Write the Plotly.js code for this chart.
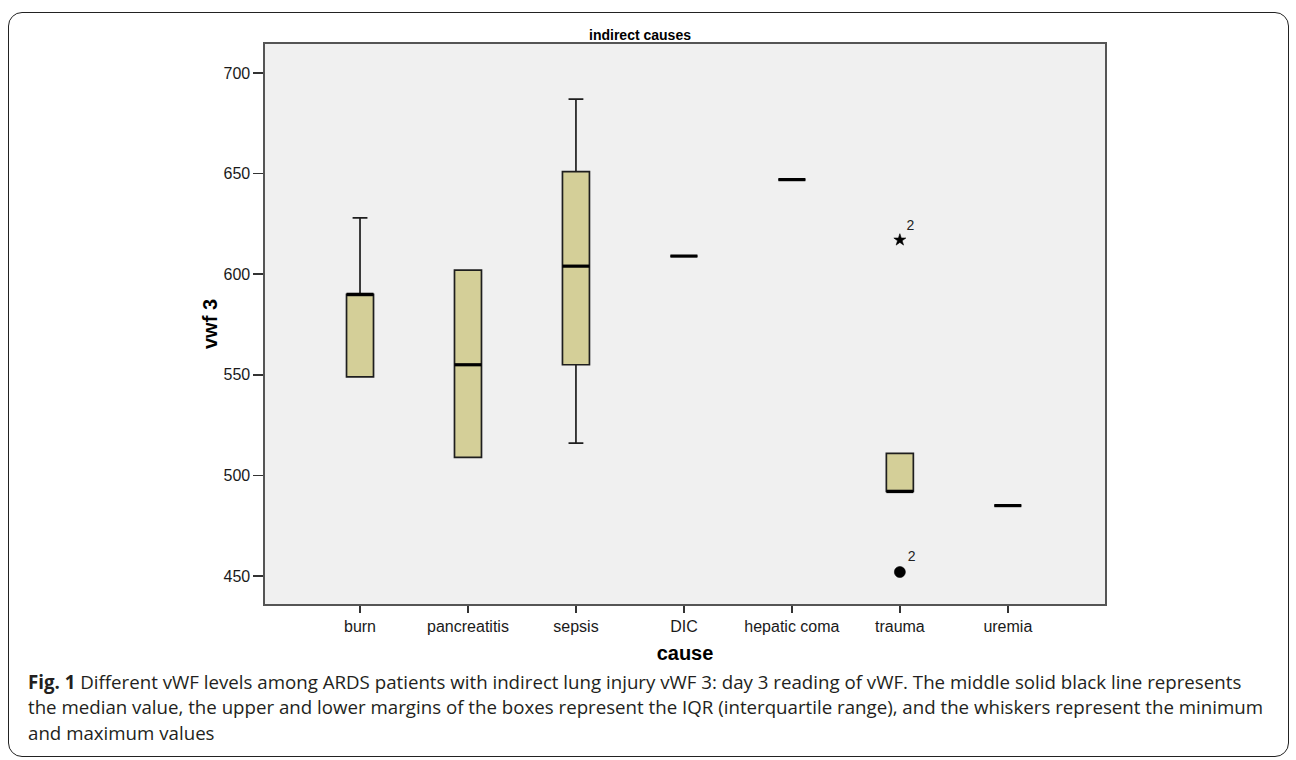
<!DOCTYPE html>
<html>
<head>
<meta charset="utf-8">
<script src="https://cdn.plot.ly/plotly-3.0.1.min.js"></script>
<style>
  html, body { margin: 0; padding: 0; background: #fff; }
  #wrap { position: relative; width: 1296px; height: 760px; overflow: hidden; }
  #chart { position: absolute; left: 0; top: 0; width: 1296px; height: 760px; }
  #frame { position: absolute; left: 8px; top: 12px; width: 1279px; height: 743px;
           border: 1.6px solid #222; border-radius: 14px; pointer-events: none; }
</style>
</head>
<body>
<div id="wrap">
  <div id="chart"></div>
  <div id="frame"></div>
</div>
<script>
// ---- data ----
const categories = ['burn', 'pancreatitis', 'sepsis', 'DIC', 'hepatic coma', 'trauma', 'uremia'];
const q1Values     = [549, 509, 555, 609, 647, 492, 485];
const medianValues = [590, 555, 604, 609, 647, 492, 485];
const q3Values     = [590, 602, 651, 609, 647, 511, 485];
const minValues    = [549, 509, 516, 609, 647, 492, 485];
const maxValues    = [628, 602, 687, 609, 647, 511, 485];
const outlierCategory = ['trauma', 'trauma'];
const outlierValues   = [617, 452];
const outlierKind     = ['extreme', 'outlier'];
const outlierLabels   = ['2', '2'];
const yTickValues = [450, 500, 550, 600, 650, 700];
const captionLines = [
  '<b>Fig. 1</b> Different vWF levels among ARDS patients with indirect lung injury vWF 3: day 3 reading of vWF. The middle solid black line represents',
  'the median value, the upper and lower margins of the boxes represent the IQR (interquartile range), and the whiskers represent the minimum',
  'and maximum values'
];

// ---- layout geometry ----
const W = 1296, H = 760;
const M = { l: 265, r: 191, t: 44, b: 156 };
const plotW = W - M.l - M.r, plotH = H - M.t - M.b;
const pxX = px => (px - M.l) / plotW;          // pixel -> paper x
const pxY = py => (H - M.b - py) / plotH;      // pixel -> paper y

const xPos = categories.map((c, i) => i);
const boxHalf = 0.125;

const boxTrace = {
  type: 'box',
  x: xPos,
  q1: q1Values,
  median: medianValues,
  q3: q3Values,
  lowerfence: minValues,
  upperfence: maxValues,
  boxpoints: false,
  width: boxHalf * 2,
  whiskerwidth: 0.55,
  fillcolor: '#d4cf98',
  line: { color: '#1e1e1e', width: 1.7 },
  hoverinfo: 'skip',
  showlegend: false
};

const medX = [], medY = [];
medianValues.forEach((m, i) => {
  medX.push(xPos[i] - boxHalf, xPos[i] + boxHalf, null);
  medY.push(m, m, null);
});
const medianTrace = {
  type: 'scatter', mode: 'lines', x: medX, y: medY,
  line: { color: '#000', width: 3.2 }, hoverinfo: 'skip', showlegend: false
};

const outlierTrace = {
  type: 'scatter', mode: 'markers+text',
  x: outlierCategory.map(c => categories.indexOf(c)),
  y: outlierValues,
  text: outlierLabels,
  textposition: 'top right',
  textfont: { family: 'Liberation Sans, Arial, sans-serif', size: 14, color: '#222' },
  opacity: 1,
  marker: {
    color: '#000',
    opacity: 1,
    symbol: outlierKind.map(k => k === 'extreme' ? 'star' : 'circle'),
    size: outlierKind.map(k => k === 'extreme' ? 9 : 11),
    line: { width: 0.6, color: '#000' }
  },
  cliponaxis: false, hoverinfo: 'skip', showlegend: false
};

const axisFont = { family: 'Liberation Sans, Arial, sans-serif', size: 16, color: '#1a1a1a' };

const annotations = captionLines.map((t, i) => ({
  text: t, xref: 'paper', yref: 'paper',
  x: pxX(26), y: pxY(681 + i * 25.5),
  xanchor: 'left', yanchor: 'middle', showarrow: false, align: 'left',
  font: { family: 'Open Sans, Noto Sans, sans-serif', size: 18.7, color: '#231f20' }
}));

const layout = {
  width: W, height: H,
  margin: M,
  paper_bgcolor: 'rgba(0,0,0,0)',
  plot_bgcolor: '#f0f0f0',
  showlegend: false,
  title: {
    text: '<b>indirect causes</b>',
    font: { family: 'Liberation Sans, Arial, sans-serif', size: 14, color: '#000' },
    xref: 'container', yref: 'container',
    x: 640 / W, xanchor: 'center',
    y: 1 - 35 / H, yanchor: 'middle'
  },
  xaxis: {
    range: [-0.88, 6.9],
    tickmode: 'array', tickvals: xPos, ticktext: categories,
    ticks: 'outside', ticklen: 7, tickwidth: 1.5, tickcolor: '#333',
    showline: true, mirror: true, linecolor: '#555', linewidth: 1.6,
    showgrid: false, zeroline: false,
    tickfont: axisFont,
    title: { text: '<b>cause</b>', font: { family: 'Liberation Sans, Arial, sans-serif', size: 20, color: '#000' }, standoff: 12 },
    fixedrange: true
  },
  yaxis: {
    range: [436.1, 714.4],
    tickmode: 'array', tickvals: yTickValues,
    ticks: 'outside', ticklen: 10, tickwidth: 1.5, tickcolor: '#333',
    showline: true, mirror: true, linecolor: '#555', linewidth: 1.6,
    showgrid: false, zeroline: false,
    tickfont: axisFont,
    title: { text: '<b>vwf 3</b>', font: { family: 'Liberation Sans, Arial, sans-serif', size: 20, color: '#000' }, standoff: 0 },
    fixedrange: true
  },
  annotations: annotations
};

Plotly.newPlot('chart', [boxTrace, medianTrace, outlierTrace], layout, { displayModeBar: false, staticPlot: true });
</script>
</body>
</html>
